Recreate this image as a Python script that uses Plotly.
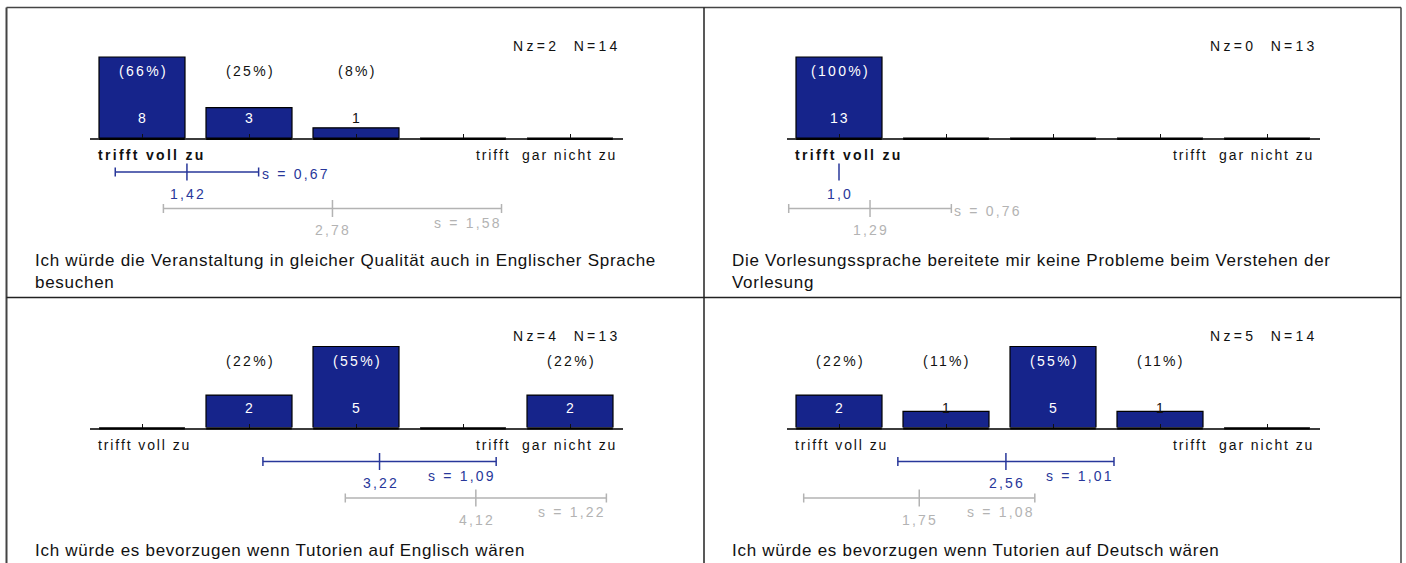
import plotly.graph_objects as go

W, H = 1406, 563

# ---------------- data ----------------
categories = [1, 2, 3, 4, 5]
counts = [
    [8, 3, 1, 0, 0],
    [13, 0, 0, 0, 0],
    [0, 2, 5, 0, 2],
    [2, 1, 5, 1, 0],
]
percents = [
    [66, 25, 8, None, None],
    [100, None, None, None, None],
    [None, 22, 55, None, 22],
    [22, 11, 55, 11, None],
]
nz = [2, 0, 4, 5]
n_total = [14, 13, 13, 14]
mean_blue = [1.42, 1.0, 3.22, 2.56]
sd_blue = [0.67, 0.0, 1.09, 1.01]
mean_gray = [2.78, 1.29, 4.12, 1.75]
sd_gray = [1.58, 0.76, 1.22, 1.08]
questions = [
    "Ich würde die Veranstaltung in gleicher Qualität auch in Englischer Sprache<br>besuchen",
    "Die Vorlesungssprache bereitete mir keine Probleme beim Verstehen der<br>Vorlesung",
    "Ich würde es bevorzugen wenn Tutorien auf Englisch wären",
    "Ich würde es bevorzugen wenn Tutorien auf Deutsch wären",
]
pole_left = "trifft voll zu"
pole_right = "trifft\u00a0 gar nicht zu"
pole_left_bold = [True, True, False, False]

# ---------------- style ----------------
NAVY = "#16248b"
BLUE = "#28379a"
GRAY = "#b3b3b3"
FONT = "Liberation Sans, Arial, sans-serif"

# panel geometry (pixels)
ox_list = [0, 697, 0, 697]
oy_list = [0, 0, 289.5, 289.5]
C1, STEP = 142.0, 107.0
AX_L, AX_R = 90.0, 623.0
BASE_Y, TOP_Y = 138.0, 57.0


def px_x(px):
    return px / W


def px_y(py):
    return 1 - py / H


def spaced(t, ls):
    return f'<span style="letter-spacing:{ls}px">{t}</span>'


def fmt(v):
    s = f"{v:.2f}"
    if s.endswith("00"):
        s = s[:-1]
    return s.replace(".", ",")


fig = go.Figure()
shapes = []
annotations = []
layout_axes = {}

for i in range(4):
    k = i + 1
    ox, oy = ox_list[i], oy_list[i]
    xa = f"x{k}" if k > 1 else "x"
    ya = f"y{k}" if k > 1 else "y"
    cnt = counts[i]
    cmax = max(cnt)

    r0 = 1 + (AX_L - C1) / STEP
    r1 = 1 + (AX_R - C1) / STEP
    top_dom_px = TOP_Y - 8
    layout_axes[("xaxis" + (str(k) if k > 1 else ""))] = dict(
        domain=[px_x(ox + AX_L), px_x(ox + AX_R)],
        range=[r0, r1],
        anchor=ya,
        showline=True, linecolor="#3c3c3c", linewidth=2,
        ticks="inside", ticklen=4, tickwidth=1, tickcolor="#111",
        tickvals=categories, showticklabels=False,
        showgrid=False, zeroline=False, fixedrange=True,
    )
    layout_axes[("yaxis" + (str(k) if k > 1 else ""))] = dict(
        domain=[px_y(oy + BASE_Y), px_y(oy + top_dom_px)],
        range=[0, cmax * (BASE_Y - top_dom_px) / (BASE_Y - TOP_Y)],
        anchor=xa, visible=False, showgrid=False, zeroline=False, fixedrange=True,
    )

    fig.add_trace(go.Bar(
        x=categories, y=cnt, width=86 / STEP,
        marker=dict(color=NAVY, line=dict(color="#000", width=1.2)),
        xaxis=xa, yaxis=ya, showlegend=False, hoverinfo="skip",
    ))

    for c in categories:
        shapes.append(dict(type="line", xref=xa, yref="paper",
                           x0=c - 0.4, x1=c + 0.4,
                           y0=px_y(oy + BASE_Y + 1), y1=px_y(oy + BASE_Y + 1),
                           line=dict(color="#000", width=2)))

    annotations.append(dict(
        text=spaced(f"Nz={nz[i]}\u00a0 N={n_total[i]}", 3.3),
        xref="paper", yref="paper", x=px_x(ox + 623), y=px_y(oy + 46),
        xanchor="right", yanchor="middle", showarrow=False,
        font=dict(family=FONT, size=14, color="#111")))

    for c, v, p in zip(categories, cnt, percents[i]):
        if v <= 0:
            continue
        bar_top = oy + BASE_Y - (BASE_Y - TOP_Y) * v / cmax
        p_col = "#fff" if bar_top < oy + 63 else "#111"
        n_col = "#fff" if bar_top < oy + 112 else "#111"
        annotations.append(dict(
            text=spaced(f"({p}%)", 2.3), xref=xa, yref="paper", x=c, y=px_y(oy + 71),
            xanchor="center", yanchor="middle", xshift=1, showarrow=False,
            font=dict(family=FONT, size=14, color=p_col)))
        annotations.append(dict(
            text=spaced(str(v), 2.0), xref=xa, yref="paper", x=c, y=px_y(oy + 118),
            xanchor="center", yanchor="middle", xshift=1, showarrow=False,
            font=dict(family=FONT, size=14, color=n_col)))

    lt = f"<b>{pole_left}</b>" if pole_left_bold[i] else pole_left
    annotations.append(dict(
        text=spaced(lt, 2.3 if pole_left_bold[i] else 1.9),
        xref="paper", yref="paper", x=px_x(ox + 96), y=px_y(oy + 155),
        xanchor="left", yanchor="middle", showarrow=False,
        font=dict(family=FONT, size=14, color="#111")))
    annotations.append(dict(
        text=spaced(pole_right, 1.9),
        xref="paper", yref="paper", x=px_x(ox + 619), y=px_y(oy + 155),
        xanchor="right", yanchor="middle", showarrow=False,
        font=dict(family=FONT, size=14, color="#111")))

    for m, s, color, ly in ((mean_blue[i], sd_blue[i], BLUE, 172),
                            (mean_gray[i], sd_gray[i], GRAY, 208.5)):
        y = oy + ly
        if s > 0:
            shapes.append(dict(type="line", xref=xa, yref="paper",
                               x0=m - s, x1=m + s, y0=px_y(y), y1=px_y(y),
                               line=dict(color=color, width=1.5)))
            for e in (m - s, m + s):
                shapes.append(dict(type="line", xref=xa, yref="paper",
                                   x0=e, x1=e, y0=px_y(y - 4.5), y1=px_y(y + 4.5),
                                   line=dict(color=color, width=1.5)))
        shapes.append(dict(type="line", xref=xa, yref="paper",
                           x0=m, x1=m, y0=px_y(y - 8.5), y1=px_y(y + 8.5),
                           line=dict(color=color, width=1.5)))
        annotations.append(dict(
            text=spaced(fmt(m), 2.2), xref=xa, yref="paper", x=m, y=px_y(y + 21.5),
            xanchor="center", yanchor="middle", xshift=1, showarrow=False,
            font=dict(family=FONT, size=14, color=color)))
        if s > 0:
            if m + s < 2.5:
                annotations.append(dict(
                    text=spaced(f"s = {fmt(s)}", 2.2), xref=xa, yref="paper",
                    x=m + s, y=px_y(y + 2), xanchor="left", yanchor="middle",
                    xshift=1, showarrow=False,
                    font=dict(family=FONT, size=14, color=color)))
            else:
                annotations.append(dict(
                    text=spaced(f"s = {fmt(s)}", 2.2), xref=xa, yref="paper",
                    x=m + s, y=px_y(y + 14), xanchor="right", yanchor="middle",
                    xshift=2, showarrow=False,
                    font=dict(family=FONT, size=14, color=color)))

    annotations.append(dict(
        text=spaced(questions[i], 0.72), xref="paper", yref="paper",
        x=px_x(ox + 33), y=px_y(oy + 249), xanchor="left", yanchor="top",
        align="left", showarrow=False,
        font=dict(family=FONT, size=17, color="#111")))

FR = "#444"
shapes += [
    dict(type="line", xref="paper", yref="paper", x0=px_x(6.5), x1=px_x(1401), y0=px_y(7.5), y1=px_y(7.5), line=dict(color=FR, width=1.5)),
    dict(type="line", xref="paper", yref="paper", x0=px_x(6.5), x1=px_x(6.5), y0=px_y(7.5), y1=0, line=dict(color=FR, width=2)),
    dict(type="line", xref="paper", yref="paper", x0=px_x(1401), x1=px_x(1401), y0=px_y(7.5), y1=0, line=dict(color=FR, width=1.5)),
    dict(type="line", xref="paper", yref="paper", x0=px_x(704), x1=px_x(704), y0=px_y(7.5), y1=0, line=dict(color="#222", width=1.5)),
    dict(type="line", xref="paper", yref="paper", x0=px_x(6.5), x1=px_x(1401), y0=px_y(297.5), y1=px_y(297.5), line=dict(color="#222", width=1.5)),
]

fig.update_layout(
    width=W, height=H, margin=dict(l=0, r=0, t=0, b=0),
    paper_bgcolor="#fff", plot_bgcolor="rgba(0,0,0,0)",
    showlegend=False, barmode="overlay",
    shapes=shapes, annotations=annotations,
    font=dict(family=FONT),
    **layout_axes,
)

fig.write_html(
    "out.html",
    config={"displayModeBar": False},
    post_script="document.body.style.margin='0';document.body.style.overflow='hidden';",
)
